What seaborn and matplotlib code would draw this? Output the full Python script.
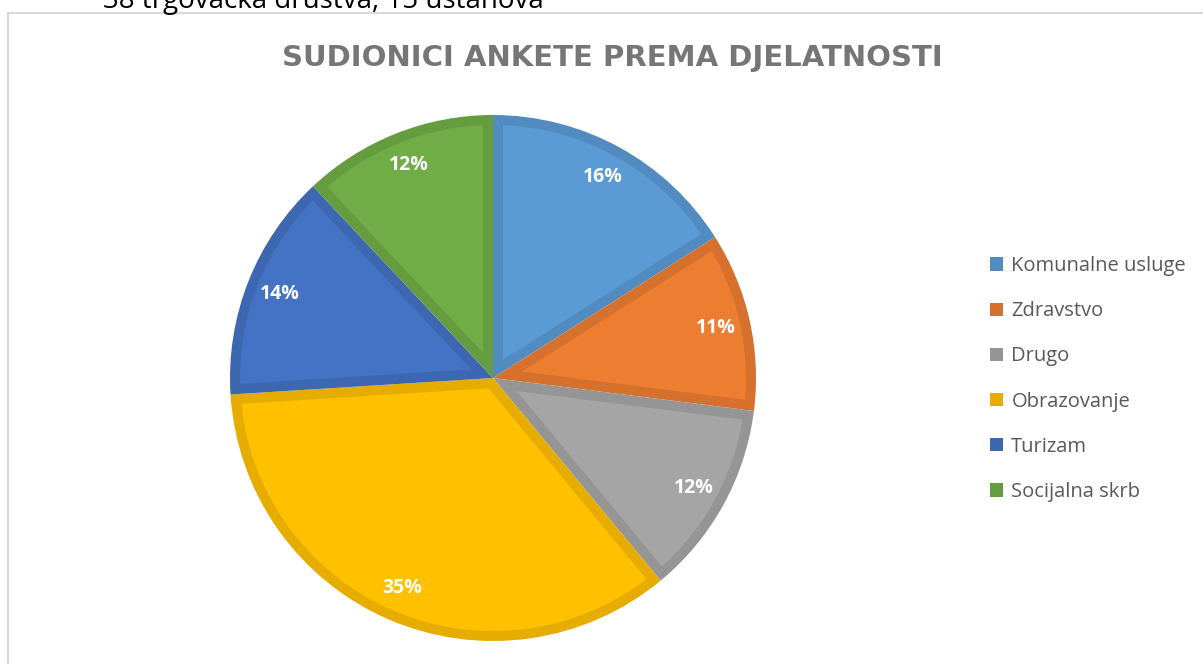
import matplotlib
matplotlib.use("Agg")
import numpy as np
import matplotlib.pyplot as plt
from matplotlib.patches import Rectangle, Polygon
from matplotlib.colors import to_rgb
import seaborn as sns

# Survey participants by sector (percent)
categories = ["Komunalne usluge", "Zdravstvo", "Drugo", "Obrazovanje", "Turizam", "Socijalna skrb"]
shares = [16, 11, 12, 35, 14, 12]
title = "SUDIONICI ANKETE PREMA DJELATNOSTI"
caption = "38 trgovačka društva, 15 ustanova"

sns.set_theme(style="white")
plt.rcParams["font.family"] = ["Open Sans", "DejaVu Sans"]

palette = sns.color_palette(["#5B9BD5", "#ED7D31", "#A5A5A5", "#FFC000", "#4472C4", "#70AD47"])
edge_palette = [tuple(c * 0.9 for c in to_rgb(col)) for col in palette]

W, H = 1203, 664
fig = plt.figure(figsize=(W / 100, H / 100), dpi=100)
fig.patch.set_facecolor("white")

# chart frame
frame = Rectangle((7.5 / W, -0.05), 1.2, (H - 12.5) / H + 0.05, transform=fig.transFigure,
                  fill=False, edgecolor="#D9D9D9", linewidth=1.5)
fig.add_artist(frame)

# line of document text above the chart
fig.text(103 / W, 1 - 8 / H, caption, fontsize=20, color="#000000",
         ha="left", va="baseline")

cx, cy, r = 493, 378, 263
ax = fig.add_axes([(cx - r) / W, (H - cy - r) / H, 2 * r / W, 2 * r / H])

# slices: darker outline colour as the full wedge
wedges, texts, autotexts = ax.pie(
    shares, colors=edge_palette, startangle=90, counterclock=False,
    autopct=lambda p: f"{p:.0f}%", pctdistance=0.87, radius=1,
    wedgeprops=dict(linewidth=0),
    textprops=dict(color="white", fontsize=14, fontweight="bold", zorder=5),
)


def inset_wedge(theta1, theta2, radius, d, n=120):
    """Polygon of a wedge shrunk inward by distance d on every side."""
    t1, t2 = np.deg2rad(theta1), np.deg2rad(theta2)
    half = (t2 - t1) / 2
    mid = (t1 + t2) / 2
    apex = (d / np.sin(half)) * np.array([np.cos(mid), np.sin(mid)])
    rr = radius - d
    pts = []
    for t in (t1, t2):
        u = np.array([np.cos(t), np.sin(t)])
        b = apex @ u
        s = -b + np.sqrt(b * b - apex @ apex + rr * rr)
        pts.append(apex + s * u)
    a1 = np.arctan2(pts[0][1], pts[0][0])
    a2 = np.arctan2(pts[1][1], pts[1][0])
    while a2 < a1:
        a2 += 2 * np.pi
    arc = np.linspace(a1, a2, n)
    arc_pts = np.column_stack([rr * np.cos(arc), rr * np.sin(arc)])
    return np.vstack([apex, arc_pts])


band = 10 / r
for w, fc in zip(wedges, palette):
    poly = Polygon(inset_wedge(w.theta1, w.theta2, w.r, band), closed=True,
                   facecolor=fc, edgecolor="none", zorder=w.get_zorder() + 0.5)
    ax.add_patch(poly)

ax.set_xlim(-1, 1)
ax.set_ylim(-1, 1)
ax.set_aspect("equal")
ax.axis("off")

fig.text(612 / W, 1 - 58 / H, title, fontsize=21, fontweight="bold", color="#767676",
         ha="center", va="center", family=["DejaVu Sans"])

handles = [Rectangle((0, 0), 1, 1, facecolor=c, edgecolor="none") for c in edge_palette]
leg = fig.legend(handles, categories, loc="upper left", bbox_to_anchor=(972 / W, 1 - 238 / H),
                 frameon=False, fontsize=14.5, labelcolor="#595959",
                 handlelength=0.65, handleheight=0.65, handletextpad=0.4, labelspacing=1.25)

fig.savefig("out.png", dpi=100, facecolor="white")
